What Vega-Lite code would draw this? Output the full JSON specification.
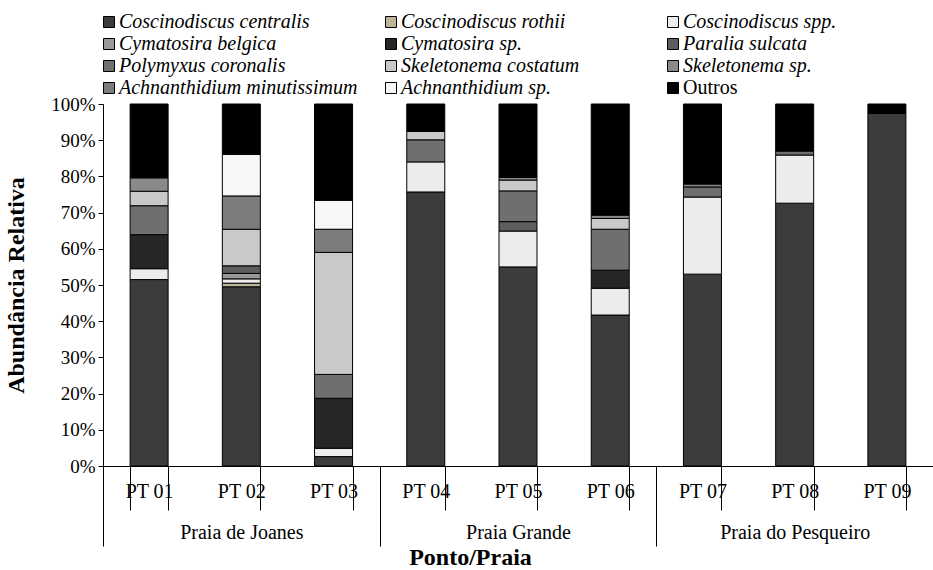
{
  "$schema": "https://vega.github.io/schema/vega-lite/v6.json",
  "width": 830,
  "height": 362,
  "autosize": "none",
  "padding": {"left": 103, "top": 104, "right": 0, "bottom": 104},
  "background": "white",
  "config": {
    "font": "Liberation Serif",
    "view": {"stroke": null},
    "axis": {
      "domainColor": "black",
      "tickColor": "black",
      "labelColor": "black",
      "titleColor": "black",
      "grid": false,
      "labelFontSize": 20,
      "titleFontSize": 24,
      "titleFontWeight": "bold",
      "labelFont": "Liberation Serif",
      "titleFont": "Liberation Serif"
    }
  },
  "data": {
    "values": [
      {"pt": "PT 01", "praia": "Praia de Joanes", "sp": "Coscinodiscus centralis", "v": 51.5},
      {"pt": "PT 01", "praia": "Praia de Joanes", "sp": "Coscinodiscus spp.", "v": 3.0},
      {"pt": "PT 01", "praia": "Praia de Joanes", "sp": "Cymatosira sp.", "v": 9.4},
      {"pt": "PT 01", "praia": "Praia de Joanes", "sp": "Polymyxus coronalis", "v": 8.0},
      {"pt": "PT 01", "praia": "Praia de Joanes", "sp": "Skeletonema costatum", "v": 4.0},
      {"pt": "PT 01", "praia": "Praia de Joanes", "sp": "Skeletonema sp.", "v": 3.7},
      {"pt": "PT 01", "praia": "Praia de Joanes", "sp": "Outros", "v": 20.4},

      {"pt": "PT 02", "praia": "Praia de Joanes", "sp": "Coscinodiscus centralis", "v": 49.5},
      {"pt": "PT 02", "praia": "Praia de Joanes", "sp": "Coscinodiscus rothii", "v": 1.0},
      {"pt": "PT 02", "praia": "Praia de Joanes", "sp": "Coscinodiscus spp.", "v": 1.2},
      {"pt": "PT 02", "praia": "Praia de Joanes", "sp": "Cymatosira belgica", "v": 1.5},
      {"pt": "PT 02", "praia": "Praia de Joanes", "sp": "Paralia sulcata", "v": 2.1},
      {"pt": "PT 02", "praia": "Praia de Joanes", "sp": "Skeletonema costatum", "v": 10.1},
      {"pt": "PT 02", "praia": "Praia de Joanes", "sp": "Achnanthidium minutissimum", "v": 9.2},
      {"pt": "PT 02", "praia": "Praia de Joanes", "sp": "Achnanthidium sp.", "v": 11.5},
      {"pt": "PT 02", "praia": "Praia de Joanes", "sp": "Outros", "v": 13.9},

      {"pt": "PT 03", "praia": "Praia de Joanes", "sp": "Coscinodiscus centralis", "v": 2.6},
      {"pt": "PT 03", "praia": "Praia de Joanes", "sp": "Coscinodiscus spp.", "v": 2.3},
      {"pt": "PT 03", "praia": "Praia de Joanes", "sp": "Cymatosira sp.", "v": 13.8},
      {"pt": "PT 03", "praia": "Praia de Joanes", "sp": "Polymyxus coronalis", "v": 6.6},
      {"pt": "PT 03", "praia": "Praia de Joanes", "sp": "Skeletonema costatum", "v": 33.7},
      {"pt": "PT 03", "praia": "Praia de Joanes", "sp": "Achnanthidium minutissimum", "v": 6.4},
      {"pt": "PT 03", "praia": "Praia de Joanes", "sp": "Achnanthidium sp.", "v": 8.0},
      {"pt": "PT 03", "praia": "Praia de Joanes", "sp": "Outros", "v": 26.6},

      {"pt": "PT 04", "praia": "Praia Grande", "sp": "Coscinodiscus centralis", "v": 75.7},
      {"pt": "PT 04", "praia": "Praia Grande", "sp": "Coscinodiscus spp.", "v": 8.3},
      {"pt": "PT 04", "praia": "Praia Grande", "sp": "Polymyxus coronalis", "v": 6.1},
      {"pt": "PT 04", "praia": "Praia Grande", "sp": "Skeletonema costatum", "v": 2.3},
      {"pt": "PT 04", "praia": "Praia Grande", "sp": "Outros", "v": 7.6},

      {"pt": "PT 05", "praia": "Praia Grande", "sp": "Coscinodiscus centralis", "v": 55.0},
      {"pt": "PT 05", "praia": "Praia Grande", "sp": "Coscinodiscus spp.", "v": 9.9},
      {"pt": "PT 05", "praia": "Praia Grande", "sp": "Paralia sulcata", "v": 2.6},
      {"pt": "PT 05", "praia": "Praia Grande", "sp": "Polymyxus coronalis", "v": 8.5},
      {"pt": "PT 05", "praia": "Praia Grande", "sp": "Skeletonema costatum", "v": 3.0},
      {"pt": "PT 05", "praia": "Praia Grande", "sp": "Skeletonema sp.", "v": 0.7},
      {"pt": "PT 05", "praia": "Praia Grande", "sp": "Outros", "v": 20.3},

      {"pt": "PT 06", "praia": "Praia Grande", "sp": "Coscinodiscus centralis", "v": 41.7},
      {"pt": "PT 06", "praia": "Praia Grande", "sp": "Coscinodiscus spp.", "v": 7.4},
      {"pt": "PT 06", "praia": "Praia Grande", "sp": "Cymatosira sp.", "v": 5.0},
      {"pt": "PT 06", "praia": "Praia Grande", "sp": "Polymyxus coronalis", "v": 11.3},
      {"pt": "PT 06", "praia": "Praia Grande", "sp": "Skeletonema costatum", "v": 3.0},
      {"pt": "PT 06", "praia": "Praia Grande", "sp": "Skeletonema sp.", "v": 0.9},
      {"pt": "PT 06", "praia": "Praia Grande", "sp": "Outros", "v": 30.7},

      {"pt": "PT 07", "praia": "Praia do Pesqueiro", "sp": "Coscinodiscus centralis", "v": 53.0},
      {"pt": "PT 07", "praia": "Praia do Pesqueiro", "sp": "Coscinodiscus spp.", "v": 21.3},
      {"pt": "PT 07", "praia": "Praia do Pesqueiro", "sp": "Polymyxus coronalis", "v": 2.8},
      {"pt": "PT 07", "praia": "Praia do Pesqueiro", "sp": "Skeletonema sp.", "v": 0.8},
      {"pt": "PT 07", "praia": "Praia do Pesqueiro", "sp": "Outros", "v": 22.1},

      {"pt": "PT 08", "praia": "Praia do Pesqueiro", "sp": "Coscinodiscus centralis", "v": 72.6},
      {"pt": "PT 08", "praia": "Praia do Pesqueiro", "sp": "Coscinodiscus spp.", "v": 13.3},
      {"pt": "PT 08", "praia": "Praia do Pesqueiro", "sp": "Polymyxus coronalis", "v": 1.1},
      {"pt": "PT 08", "praia": "Praia do Pesqueiro", "sp": "Outros", "v": 13.0},

      {"pt": "PT 09", "praia": "Praia do Pesqueiro", "sp": "Coscinodiscus centralis", "v": 97.4},
      {"pt": "PT 09", "praia": "Praia do Pesqueiro", "sp": "Outros", "v": 2.6}
    ]
  },
  "resolve": {"scale": {"x": "independent"}},
  "layer": [
    {
      "transform": [
        {"calculate": "indexof(['Coscinodiscus centralis','Coscinodiscus rothii','Coscinodiscus spp.','Cymatosira belgica','Cymatosira sp.','Paralia sulcata','Polymyxus coronalis','Skeletonema costatum','Skeletonema sp.','Achnanthidium minutissimum','Achnanthidium sp.','Outros'], datum.sp)", "as": "k"}
      ],
      "mark": {"type": "bar", "stroke": "black", "strokeWidth": 1},
      "encoding": {
        "x": {
          "field": "pt",
          "type": "nominal",
          "scale": {"paddingInner": 0.588, "paddingOuter": 0.294},
          "axis": {
            "orient": "bottom",
            "title": null,
            "labelAngle": 0,
            "tickBand": "extent",
            "tickSize": 44,
            "labelPadding": -29
          }
        },
        "y": {
          "field": "v",
          "type": "quantitative",
          "stack": "zero",
          "scale": {"domain": [0, 100], "nice": false},
          "axis": {
            "values": [0, 10, 20, 30, 40, 50, 60, 70, 80, 90, 100],
            "labelExpr": "datum.value + '%'",
            "labelFontSize": 19,
            "title": "Abundância Relativa",
            "tickSize": 5,
            "labelPadding": 3,
            "titlePadding": 22
          }
        },
        "color": {
          "field": "sp",
          "type": "nominal",
          "scale": {
            "domain": ["Coscinodiscus centralis", "Cymatosira belgica", "Polymyxus coronalis", "Achnanthidium minutissimum", "Coscinodiscus rothii", "Cymatosira sp.", "Skeletonema costatum", "Achnanthidium sp.", "Coscinodiscus spp.", "Paralia sulcata", "Skeletonema sp.", "Outros"],
            "range": ["#3c3c3c", "#9a9a9a", "#6f6f6f", "#7c7c7c", "#bcb597", "#262626", "#c9c9c9", "#f7f7f7", "#ececec", "#5e5e5e", "#8a8a8a", "#000000"]
          },
          "legend": {
            "orient": "none",
            "legendX": -4,
            "legendY": -92,
            "columns": 3,
            "title": null,
            "padding": 0,
            "symbolType": "square",
            "symbolSize": 121,
            "symbolStrokeColor": "black",
            "symbolStrokeWidth": 1,
            "labelFont": "Liberation Serif",
            "labelFontSize": 20,
            "labelColor": "black",
            "labelOffset": 0,
            "labelLimit": 400,
            "columnPadding": 23,
            "rowPadding": 2,
            "gridAlign": "all",
            "encode": {
              "labels": {"update": {"fontStyle": {"signal": "datum.value === 'Outros' ? 'normal' : 'italic'"}}}
            }
          }
        },
        "order": {"field": "k", "type": "quantitative", "sort": "ascending"}
      }
    },
    {
      "mark": {"type": "bar", "opacity": 0},
      "encoding": {
        "x": {
          "field": "praia",
          "type": "nominal",
          "sort": ["Praia de Joanes", "Praia Grande", "Praia do Pesqueiro"],
          "scale": {"paddingInner": 0, "paddingOuter": 0},
          "axis": {
            "orient": "bottom",
            "title": "Ponto/Praia",
            "labelAngle": 0,
            "tickBand": "extent",
            "tickSize": 80,
            "labelPadding": -24,
            "titleX": 367,
            "titleY": 79,
            "titleBaseline": "top",
            "domain": false
          }
        }
      }
    }
  ]
}
